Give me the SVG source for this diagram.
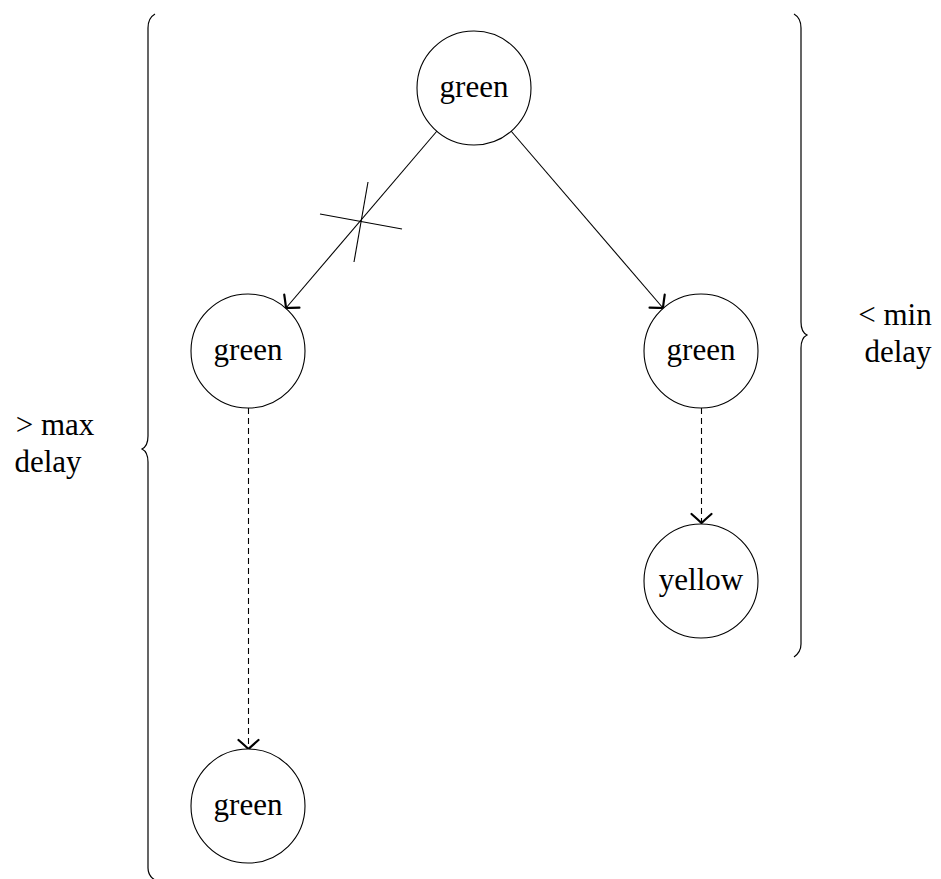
<svg xmlns="http://www.w3.org/2000/svg" width="941" height="879" viewBox="0 0 941 879">
<style>
.node circle{fill:#fff;stroke:#000;stroke-width:1.1}
text{font-family:"Liberation Serif","DejaVu Serif",serif;font-size:31px;fill:#000;text-anchor:middle}
.edge{stroke:#000;stroke-width:1.1;fill:none}
.dash{stroke-dasharray:6,4}
.brace{stroke:#000;stroke-width:1.2;fill:none}
</style>
<defs>
<marker id="to" viewBox="-14 -14 18 28" markerWidth="18" markerHeight="28" refX="0" refY="0" orient="auto" markerUnits="userSpaceOnUse">
<path d="M -9 -10 Q -2 -2 0 0 Q -2 2 -9 10" fill="none" stroke="#000" stroke-width="2.2" stroke-linecap="round"/>
</marker>
</defs>
<rect width="941" height="879" fill="#fff"/>
<g id="connectors">
<line class="edge" x1="437" y1="131" x2="286" y2="308" marker-end="url(#to)"/>
<line class="edge" x1="511" y1="131" x2="663" y2="308" marker-end="url(#to)"/>
<line class="edge" x1="320" y1="214" x2="402" y2="229"/>
<line class="edge" x1="368" y1="182" x2="354" y2="262"/>
<line class="edge dash" x1="248.5" y1="408" x2="248.5" y2="749" marker-end="url(#to)"/>
<line class="edge dash" x1="701.5" y1="408" x2="701.5" y2="523" marker-end="url(#to)"/>
</g>
<g id="brace-left">
<path class="brace" d="M 155 14 Q 148 18 148 28 L 148 436 Q 148 446 142 449 Q 148 452 148 462 L 148 868 Q 148 876 155 880"/>
<text x="55" y="435">&gt; max</text>
<text x="48" y="472">delay</text>
</g>
<g id="brace-right">
<path class="brace" d="M 794 14 Q 801 18 801 28 L 801 322 Q 801 332 807 335 Q 801 338 801 348 L 801 644 Q 801 652 794 657"/>
<text x="895" y="325">&lt; min</text>
<text x="898" y="362">delay</text>
</g>
<g id="n-top" class="node"><circle cx="474" cy="88" r="57"/><text x="474" y="97">green</text></g>
<g id="n-left" class="node"><circle cx="248" cy="351" r="57"/><text x="248" y="360">green</text></g>
<g id="n-right" class="node"><circle cx="701" cy="351" r="57"/><text x="701" y="360">green</text></g>
<g id="n-yellow" class="node"><circle cx="701" cy="581" r="57"/><text x="701" y="590">yellow</text></g>
<g id="n-bottom" class="node"><circle cx="248" cy="806" r="57"/><text x="248" y="815">green</text></g>
</svg>
